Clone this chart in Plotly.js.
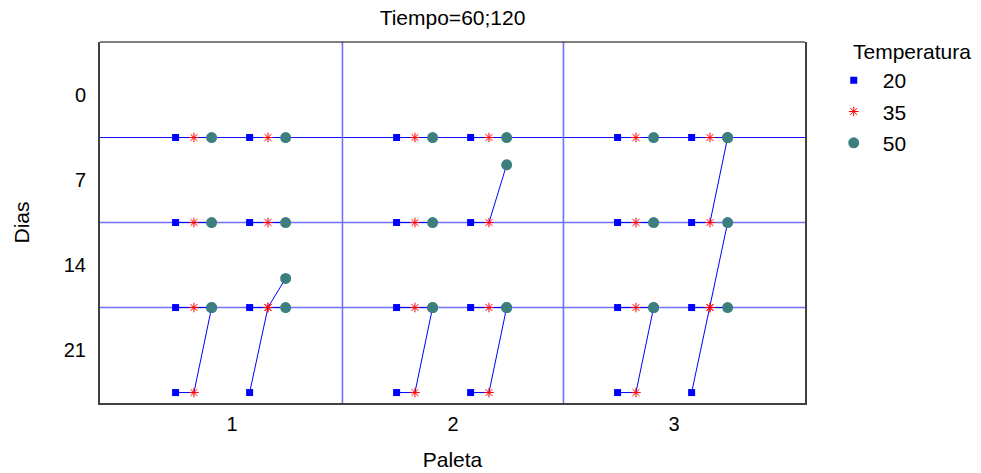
<!DOCTYPE html>
<html>
<head>
<meta charset="utf-8">
<script src="https://cdn.plot.ly/plotly-3.0.1.min.js"></script>
<style>html,body{margin:0;padding:0;background:#fff}#chart{width:981px;height:473px}</style>
</head>
<body>
<div id="chart"></div>
<script>
// Categories
const paletas = [1, 2, 3];
const tiempos = [60, 120];
const dias = [0, 7, 14, 21];
const temperaturas = [20, 35, 50];

// Values per temperature, ordered Paleta -> Tiempo -> Dias
const y20 = [3.5, 10.5, 17.5, 24.5,  3.5, 10.5, 17.5, 24.5,
             3.5, 10.5, 17.5, 24.5,  3.5, 10.5, 17.5, 24.5,
             3.5, 10.5, 17.5, 24.5,  3.5, 10.5, 17.5, 24.5];
const y35 = [3.5, 10.5, 17.5, 24.5,  3.5, 10.5, 17.5, 17.5,
             3.5, 10.5, 17.5, 24.5,  3.5, 10.5, 17.5, 24.5,
             3.5, 10.5, 17.5, 24.5,  3.5, 10.5, 17.5, 17.5];
const y50 = [3.5, 10.5, 17.5, 17.5,  3.5, 10.5, 17.5, 15.1,
             3.5, 10.5, 17.5, 17.5,  3.5, 5.75, 17.5, 17.5,
             3.5, 10.5, 17.5, 17.5,  3.5, 3.5, 17.5, 10.5];
const nivelesRef = [3.5, 10.5, 17.5];

const valores = {20: y20, 35: y35, 50: y50};
const offTiempo = {60: -0.172, 120: 0.163};
const offTemp = {20: -0.083, 35: 0, 50: 0.08};

const traces = [];
let i = 0;
const pts = [];
paletas.forEach(p => tiempos.forEach(t => dias.forEach(d => {
  pts.push({p, t, d, idx: i});
  const xs = temperaturas.map(k => p + offTiempo[t] + offTemp[k]);
  const ys = temperaturas.map(k => valores[k][i]);
  traces.push({x: xs, y: ys, type: 'scatter', mode: 'lines',
    line: {color: '#0000ff', width: 1}, showlegend: false, hoverinfo: 'skip'});
  i++;
})));

const estilos = {
  20: {symbol: 'square', size: 7, color: '#0000ff'},
  35: {symbol: 'asterisk-open', size: 8, color: '#ff0000', line: {color: '#ff0000', width: 1}},
  50: {symbol: 'circle', size: 11, color: '#3d7f7f'}
};
temperaturas.forEach(k => {
  traces.push({
    x: pts.map(o => o.p + offTiempo[o.t] + offTemp[k]),
    y: pts.map(o => valores[k][o.idx]),
    type: 'scatter', mode: 'markers', name: String(k),
    legendgroup: 'g' + k,
    marker: estilos[k]
  });
});

const shapes = [];
nivelesRef.forEach((v, j) => shapes.push({type: 'line', xref: 'paper', yref: 'y', x0: 0, x1: 1, y0: v, y1: v,
  line: {color: j === 0 ? '#1010ff' : '#7070ff', width: j === 0 ? 1 : 1.6}, layer: 'below'}));
for (let j = 0; j < paletas.length - 1; j++) {
  const m = (paletas[j] + paletas[j + 1]) / 2;
  shapes.push({type: 'line', xref: 'x', yref: 'paper', x0: m, x1: m, y0: 0, y1: 1,
    line: {color: '#7070ff', width: 1.6}, layer: 'below'});
}
shapes.push({type: 'line', xref: 'paper', yref: 'paper', x0: 0, x1: 1, y0: 1, y1: 1, line: {color: '#000', width: 1}});

const fam = 'Liberation Sans, Arial, sans-serif';
const layout = {
  width: 981, height: 473,
  margin: {l: 100, r: 176, t: 42, b: 70},
  paper_bgcolor: '#fff', plot_bgcolor: '#fff',
  font: {family: fam, size: 20, color: '#000'},
  title: {text: 'Tiempo=60;120', x: 0.5, xref: 'paper', xanchor: 'center', y: 0.962, yref: 'container', yanchor: 'middle',
    font: {family: fam, size: 21, color: '#000'}},
  xaxis: {range: [0.403, 3.593], tickvals: paletas, ticktext: paletas.map(String),
    showgrid: false, zeroline: false, showline: true, linecolor: '#404040', linewidth: 2, mirror: false,
    ticks: 'outside', ticklen: 2, tickcolor: 'rgba(0,0,0,0)', tickfont: {size: 20},
    title: {text: 'Paleta', standoff: 18, font: {size: 21}}},
  yaxis: {range: [25.36, -4.365], tickvals: dias, ticktext: dias.map(String),
    showgrid: false, zeroline: false, showline: true, linecolor: '#404040', linewidth: 2, mirror: true,
    ticks: 'outside', ticklen: 8, tickcolor: 'rgba(0,0,0,0)', tickfont: {size: 20},
    title: {text: 'Dias', standoff: 28, font: {size: 21}}},
  legend: {x: 1.028, xanchor: 'left', y: 0.95, yanchor: 'top',
    font: {size: 21}, tracegroupgap: 1, itemwidth: 48},
  annotations: [{text: 'Temperatura', xref: 'paper', yref: 'paper', x: 1.0652, y: 0.9723,
    xanchor: 'left', yanchor: 'middle', showarrow: false, font: {size: 21}}],
  shapes: shapes,
  showlegend: true
};
Plotly.newPlot('chart', traces, layout, {displayModeBar: false, staticPlot: true});
</script>
</body>
</html>
